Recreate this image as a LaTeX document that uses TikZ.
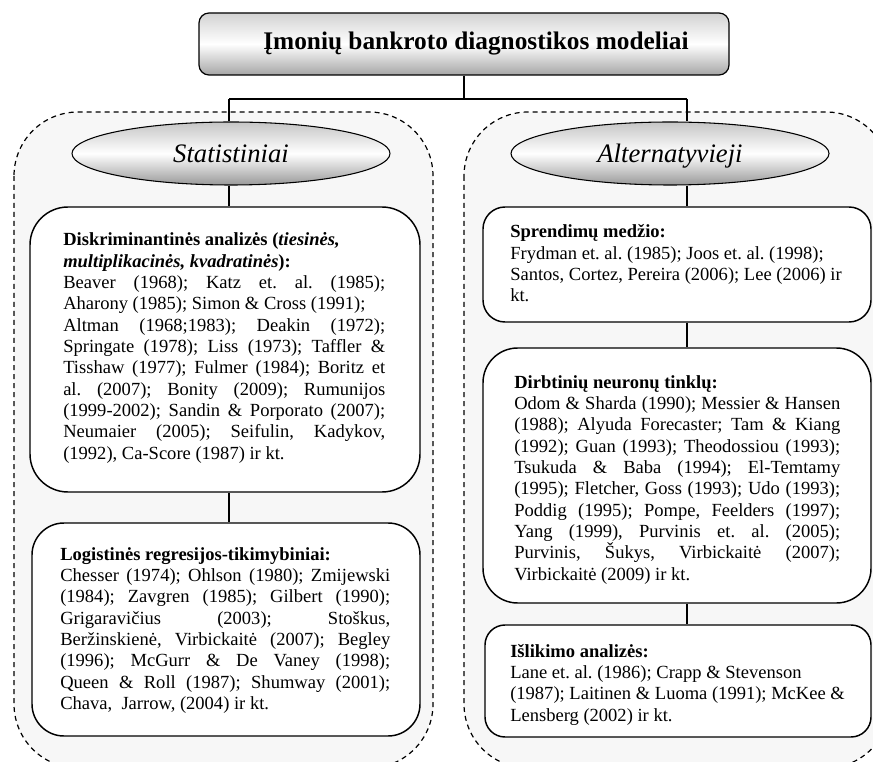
\documentclass[tikz,border=0pt]{standalone}
\usepackage{fontspec}
\setmainfont{Liberation Serif}
\usetikzlibrary{shapes.geometric}
\frenchspacing

% one line stretched to the full measure (justified line)
\newcommand{\jline}[1]{\makebox[\linewidth][s]{#1}\\}

\begin{document}
\begin{tikzpicture}[x=0.75pt,y=-0.75pt,
  container/.style={draw=black, fill=gray!6, line width=0.9pt,
    dash pattern=on 3.75pt off 3pt, rounded corners=48pt},
  panel/.style={rectangle, draw=black, fill=white, line width=1.1pt, inner sep=0pt},
  headbox/.style={rectangle, draw=black, line width=0.9pt, inner sep=0pt,
    rounded corners=7.5pt, top color=gray!35, bottom color=gray!70, middle color=white},
  oval/.style={ellipse, draw=black, line width=0.8pt, inner sep=0pt,
    top color=gray!45, bottom color=gray!80, middle color=white,
    minimum width=238.5pt, minimum height=47.25pt, text depth=0pt,
    font=\fontsize{20}{24}\selectfont\itshape},
  link/.style={line width=1pt},
  body/.style={anchor=base west, inner sep=0pt, font=\fontsize{13.9}{16}\selectfont},
]
\clip (0,0) rectangle (873,762);

% two dashed group frames
\draw[container] (14,112) rectangle (433,768);
\draw[container] (464,112) rectangle (890,768);

% title
\node[headbox, minimum width=397.5pt, minimum height=46.5pt] (title) at (464,44) {};
\node[anchor=base, inner sep=0pt, font=\fontsize{19}{22}\selectfont\bfseries]
  (titletext) at (476,50) {Įmonių bankroto diagnostikos modeliai};

% group headings
\node[oval] (stat) at (231,153.5) {Statistiniai};
\node[oval] (alt) at (670,153.5) {Alternatyvieji};

% model panels
\node[panel, rounded corners=28.5pt, minimum width=292.5pt, minimum height=213.75pt] (disc) at (225,349.5) {};
\node[panel, rounded corners=24pt, minimum width=291pt, minimum height=159.75pt] (logit) at (226,629.5) {};
\node[panel, rounded corners=16.5pt, minimum width=291pt, minimum height=86.25pt] (tree) at (677,264.5) {};
\node[panel, rounded corners=26pt, minimum width=291pt, minimum height=191.25pt] (neural) at (677,475.5) {};
\node[panel, rounded corners=15pt, minimum width=289.5pt, minimum height=84pt] (surv) at (678,681) {};

% tree connectors
\coordinate (hubL) at (229,99);
\coordinate (hubR) at (687,99);
\coordinate (hubM) at (464,99);
\draw[link] (title.south) -- (hubM);
\draw[link] (hubL) -- (hubR);
\draw[link] (hubL) -- (hubL |- stat.north);
\draw[link] (hubL |- stat.south) -- (hubL |- disc.north);
\draw[link] (hubL |- disc.south) -- (hubL |- logit.north);
\draw[link] (hubR) -- (hubR |- alt.north);
\draw[link] (hubR |- alt.south) -- (hubR |- tree.north);
\draw[link] (hubR |- tree.south) -- (hubR |- neural.north);
\draw[link] (hubR |- neural.south) -- (hubR |- surv.north);

% panel texts
\node[body] (discText) at (63,246) {\parbox[t]{241.5pt}{%
\textbf{Diskriminantinės analizės (\textit{tiesinės,}}\\
\textbf{\textit{multiplikacinės, kvadratinės}):}\\
\jline{Beaver (1968); Katz et. al. (1985);}
Aharony (1985); Simon \& Cross (1991);\\
\jline{Altman (1968;1983); Deakin (1972);}
\jline{Springate (1978); Liss (1973); Taffler \&}
\jline{Tisshaw (1977); Fulmer (1984); Boritz et}
\jline{al. (2007); Bonity (2009); Rumunijos}
\jline{(1999-2002); Sandin \& Porporato (2007);}
\jline{Neumaier (2005); Seifulin, Kadykov,}
(1992), Ca-Score (1987) ir kt.}};

\node[body] (logitText) at (60,560) {\parbox[t]{247.5pt}{%
\textbf{Logistinės regresijos-tikimybiniai:}\\
\jline{Chesser (1974); Ohlson (1980); Zmijewski}
\jline{(1984); Zavgren (1985); Gilbert (1990);}
\jline{Grigaravičius (2003); Stoškus,}
\jline{Beržinskienė, Virbickaitė (2007); Begley}
\jline{(1996); McGurr \& De Vaney (1998);}
\jline{Queen \& Roll (1987); Shumway (2001);}
Chava,\ \ Jarrow, (2004) ir kt.}};

\node[body] (treeText) at (510,238) {\parbox[t]{270pt}{%
\textbf{Sprendimų medžio:}\\
Frydman et. al. (1985); Joos et. al. (1998);\\
Santos, Cortez, Pereira (2006); Lee (2006) ir\\
kt.}};

\node[body] (neuralText) at (514,388) {\parbox[t]{244.5pt}{%
\textbf{Dirbtinių neuronų tinklų:}\\
\jline{Odom \& Sharda (1990); Messier \& Hansen}
\jline{(1988); Alyuda Forecaster; Tam \& Kiang}
\jline{(1992); Guan (1993); Theodossiou (1993);}
\jline{Tsukuda \& Baba (1994); El-Temtamy}
\jline{(1995); Fletcher, Goss (1993); Udo (1993);}
\jline{Poddig (1995); Pompe, Feelders (1997);}
\jline{Yang (1999), Purvinis et. al. (2005);}
\jline{Purvinis, Šukys, Virbickaitė (2007);}
Virbickaitė (2009) ir kt.}};

\node[body] (survText) at (510,657) {\parbox[t]{270pt}{%
\textbf{Išlikimo analizės:}\\
Lane et. al. (1986); Crapp \& Stevenson\\
(1987); Laitinen \& Luoma (1991); McKee \&\\
Lensberg (2002) ir kt.}};
\end{tikzpicture}
\end{document}
